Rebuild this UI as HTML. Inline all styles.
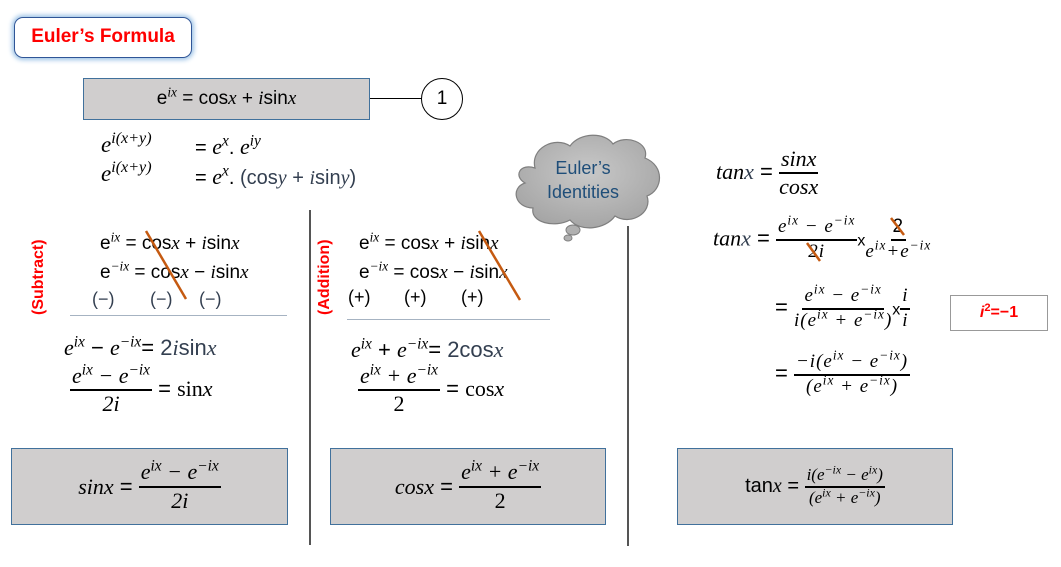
<!DOCTYPE html>
<html><head><meta charset="utf-8"><style>
body{margin:0;width:1061px;height:567px;background:#fff;position:relative;overflow:hidden;font-family:"Liberation Sans",sans-serif;color:#000}
.a{position:absolute;white-space:nowrap}
.m{font-family:"Liberation Serif",serif;font-style:italic}
.s{font-family:"Liberation Sans",sans-serif;font-style:normal}
.fr{display:inline-flex;flex-direction:column;align-items:center;vertical-align:middle;line-height:1.2}
.fr>span:first-child{border-bottom:2px solid #000;padding:0 2px}
.box{position:absolute;background:#d0cece;border:1.5px solid #41719c;box-sizing:border-box}
sup{font-size:70%;vertical-align:0.55em;line-height:0}
.bl{color:#333f50}
.w{letter-spacing:1px}
</style></head><body>
<div class="a" style="left:14px;top:17px;width:178px;height:41px;border:1.5px solid #2f5597;border-radius:9px;box-shadow:0 0 5px 2px #9dc3e6;box-sizing:border-box;text-align:center;line-height:38px;color:#f00;font-weight:bold;font-size:19px">Euler’s Formula</div>
<div class="box" style="left:83px;top:78px;width:287px;height:42px;text-align:center;line-height:40px;font-size:19px">e<sup class="m">ix</sup> = cos<span class="m">x</span> + <span class="m">i</span>sin<span class="m">x</span></div>
<div class="a" style="left:370px;top:98px;width:52px;height:1px;background:#000"></div>
<div class="a" style="left:421px;top:78px;width:42px;height:42px;border:1.3px solid #000;border-radius:50%;box-sizing:border-box;text-align:center;line-height:40px;font-size:19px">1</div>
<div class="a m" style="left:101px;top:132px;font-size:23px">e<sup>i(x+y)</sup></div>
<div class="a" style="left:195px;top:134px;font-size:20px">= <span class="m" style="font-size:22px">e<sup>x</sup></span>. <span class="m" style="font-size:22px">e<sup>iy</sup></span></div>
<div class="a m" style="left:101px;top:161px;font-size:23px">e<sup>i(x+y)</sup></div>
<div class="a" style="left:195px;top:164px;font-size:20px">= <span class="m" style="font-size:22px">e<sup>x</sup></span>. <span class="bl">(cos<span class="m">y</span> + <span class="m">i</span>sin<span class="m">y</span>)</span></div>

<svg class="a" style="left:505px;top:128px" width="160" height="120" viewBox="0 0 160 120">
<defs><radialGradient id="g" cx="50%" cy="40%" r="60%"><stop offset="0" stop-color="#c8c8c8"/><stop offset="1" stop-color="#a6a6a6"/></radialGradient></defs>
<path d="M30 40 C25 20 50 8 65 18 C75 4 100 4 108 16 C120 6 145 14 140 30 C160 38 158 62 142 68 C148 85 125 98 110 88 C100 102 75 104 65 92 C50 100 25 95 28 80 C10 80 5 60 20 55 C8 48 15 35 30 40 Z" fill="url(#g)" stroke="#7f7f7f" stroke-width="1.2"/>
<ellipse cx="68" cy="102" rx="7" ry="5" fill="#b0b0b0" stroke="#7f7f7f"/>
<ellipse cx="63" cy="110" rx="4" ry="3" fill="#b0b0b0" stroke="#7f7f7f"/>
<text x="78" y="46" text-anchor="middle" font-family="Liberation Sans" font-size="18" fill="#1f4e79">Euler’s</text>
<text x="78" y="70" text-anchor="middle" font-family="Liberation Sans" font-size="18" fill="#1f4e79">Identities</text>
</svg>

<div class="a" style="left:309px;top:210px;width:1.5px;height:335px;background:#555"></div>
<div class="a" style="left:627px;top:226px;width:1.5px;height:320px;background:#555"></div>

<div class="a" style="left:30px;top:315px;transform:rotate(-90deg);transform-origin:0 0;color:#f00;font-weight:bold;font-size:16px">(Subtract)</div>
<div class="a" style="left:100px;top:233px;font-size:19px">e<sup class="m">ix</sup> = cos<span class="m">x</span> + <span class="m">i</span>sin<span class="m">x</span></div>
<div class="a" style="left:100px;top:262px;font-size:19px">e<sup class="m">−ix</sup> = cos<span class="m">x</span> − <span class="m">i</span>sin<span class="m">x</span></div>
<div class="a bl" style="left:92px;top:289px;font-size:18px">(−)</div>
<div class="a bl" style="left:150px;top:289px;font-size:18px">(−)</div>
<div class="a bl" style="left:199px;top:289px;font-size:18px">(−)</div>
<div class="a" style="left:70px;top:315px;width:217px;height:1px;background:#a6b3c2"></div>
<div class="a" style="left:64px;top:335px;font-size:22px"><span class="m">e<sup>ix</sup></span> − <span class="m">e<sup>−ix</sup></span>= <span class="bl">2<span class="m">i</span>sin<span class="m">x</span></span></div>
<div class="a" style="left:70px;top:363px;font-size:22px"><span class="fr m"><span>e<sup>ix</sup> − e<sup>−ix</sup></span><span>2i</span></span> = <span style="font-family:'Liberation Serif'">sin</span><span class="m">x</span></div>

<div class="a" style="left:316px;top:315px;transform:rotate(-90deg);transform-origin:0 0;color:#f00;font-weight:bold;font-size:16px">(Addition)</div>
<div class="a" style="left:359px;top:233px;font-size:19px">e<sup class="m">ix</sup> = cos<span class="m">x</span> + <span class="m">i</span>sin<span class="m">x</span></div>
<div class="a" style="left:359px;top:262px;font-size:19px">e<sup class="m">−ix</sup> = cos<span class="m">x</span> − <span class="m">i</span>sin<span class="m">x</span></div>
<div class="a" style="left:348px;top:287px;font-size:18px">(+)</div>
<div class="a" style="left:404px;top:287px;font-size:18px">(+)</div>
<div class="a" style="left:461px;top:287px;font-size:18px">(+)</div>
<div class="a" style="left:347px;top:319px;width:203px;height:1px;background:#a6b3c2"></div>
<div class="a" style="left:351px;top:337px;font-size:22px"><span class="m">e<sup>ix</sup></span> + <span class="m">e<sup>−ix</sup></span>= <span class="bl">2cos<span class="m">x</span></span></div>
<div class="a" style="left:358px;top:363px;font-size:22px"><span class="fr m"><span>e<sup>ix</sup> + e<sup>−ix</sup></span><span style="font-style:normal">2</span></span> = <span style="font-family:'Liberation Serif'">cos</span><span class="m">x</span></div>

<div class="a" style="left:716px;top:146px;font-size:22px"><span class="m">tan<span class="bl">x</span></span> = <span class="fr m"><span>sinx</span><span>cosx</span></span></div>
<div class="a" style="left:713px;top:216px;font-size:22px"><span class="m">tan<span class="bl">x</span></span> = <span class="fr m w" style="font-size:19px"><span>e<sup>ix</sup> − e<sup>−ix</sup></span><span>2i</span></span><span style="font-size:16px">x</span><span class="fr m w" style="font-size:19px"><span class="s">2</span><span>e<sup>ix</sup>+e<sup>−ix</sup></span></span></div>
<div class="a" style="left:775px;top:285px;font-size:22px">= <span class="fr m w" style="font-size:19px"><span>e<sup>ix</sup> − e<sup>−ix</sup></span><span>i(e<sup>ix</sup> + e<sup>−ix</sup>)</span></span><span style="font-size:16px">x</span><span class="fr m" style="font-size:19px"><span>i</span><span>i</span></span></div>
<div class="a" style="left:950px;top:295px;width:98px;height:36px;border:1.3px solid #999;box-sizing:border-box;text-align:center;line-height:34px;color:#f00;font-weight:bold;font-size:16px"><i>i</i><sup>2</sup>=−1</div>
<div class="a" style="left:775px;top:351px;font-size:22px">= <span class="fr m w" style="font-size:19px"><span>−i(e<sup>ix</sup> − e<sup>−ix</sup>)</span><span>(e<sup>ix</sup> + e<sup>−ix</sup>)</span></span></div>

<svg class="a" style="left:0;top:0" width="1061" height="567">
<g stroke="#c55a11" stroke-width="2.5">
<line x1="146" y1="231" x2="186" y2="299"/>
<line x1="479" y1="231" x2="520" y2="300"/>
<line x1="891" y1="218" x2="904" y2="235"/>
<line x1="807" y1="243" x2="820" y2="261"/>
</g></svg>

<div class="box" style="left:11px;top:448px;width:277px;height:77px;display:flex;align-items:center;justify-content:center;font-size:22px"><span class="m">sinx</span>&nbsp;=&nbsp;<span class="fr m"><span>e<sup>ix</sup> − e<sup>−ix</sup></span><span>2i</span></span></div>
<div class="box" style="left:330px;top:448px;width:276px;height:77px;display:flex;align-items:center;justify-content:center;font-size:22px"><span class="m">cosx</span>&nbsp;=&nbsp;<span class="fr m"><span>e<sup>ix</sup> + e<sup>−ix</sup></span><span style="font-style:normal">2</span></span></div>
<div class="box" style="left:677px;top:448px;width:276px;height:77px;display:flex;align-items:center;justify-content:center;font-size:20px">tan<span class="m">x</span>&nbsp;=&nbsp;<span class="fr m" style="font-size:17px"><span>i(e<sup>−ix</sup> − e<sup>ix</sup>)</span><span>(e<sup>ix</sup> + e<sup>−ix</sup>)</span></span></div>
</body></html>
